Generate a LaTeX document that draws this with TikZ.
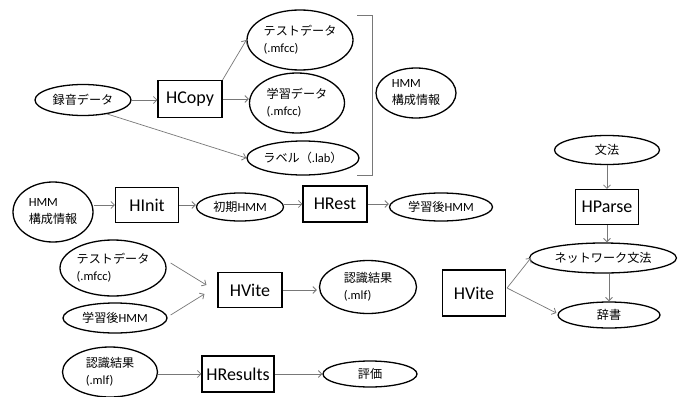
\documentclass[tikz,border=0pt]{standalone}
\usepackage{fontspec}
\setmainfont{Carlito}
\newfontfamily\cjk[Scale=0.97]{Noto Sans CJK JP}
\usetikzlibrary{shapes.geometric,arrows.meta}
\definecolor{arrgray}{RGB}{120,120,120}
\begin{document}
\begin{tikzpicture}[x=1pt,y=-1pt,
  ell/.style={draw=black,line width=1.3pt,ellipse,inner sep=0pt,align=left,
    font=\fontsize{12.5}{17}\selectfont},
  prog/.style={draw=black,line width=1.1pt,rectangle,inner sep=0pt,
    font=\fontsize{18}{20}\selectfont},
  arr/.style={draw=arrgray,line width=0.7pt,
    -{Straight Barb[length=3.5pt,width=7pt,line width=0.8pt]}},
  brk/.style={draw=arrgray,line width=0.8pt}]
\useasboundingbox (0,0) rectangle (692,396);
\fill[white] (0,0) rectangle (692,396);

% top group
\node[ell,minimum width=96pt,minimum height=31pt] (rec) at (83,100) {\cjk 録音データ};
\node[prog,minimum width=64pt,minimum height=37pt] (hcopy) at (190,99) {HCopy};
\node[ell,minimum width=106pt,minimum height=60pt] (test) at (300,40) {{\cjk テストデータ}\\(.mfcc)};
\node[ell,minimum width=95pt,minimum height=60pt] (learn) at (297,103) {{\cjk 学習データ}\\(.mfcc)};
\node[ell,minimum width=106pt,minimum height=34pt] (lab) at (303,158) {{\cjk ラベル（}.lab{\cjk ）}};
\node[ell,minimum width=80pt,minimum height=50pt] (hmm1) at (416,93) {HMM\\{\cjk 構成情報}};
\draw[brk] (357,15) -- (372,15) -- (372,175) -- (357,175);

\draw[arr] (rec.east) -- (rec.east -| hcopy.west);
\draw[arr] (hcopy.north east) -- (test.west);
\draw[arr] (hcopy.east) -- (hcopy.east -| learn.west);
\draw[arr] (rec.-30) -- (lab.west);

% second row
\node[ell,minimum width=80pt,minimum height=60pt] (hmm2) at (53,212) {HMM\\{\cjk 構成情報}};
\node[prog,minimum width=63pt,minimum height=35pt] (hinit) at (147,205) {HInit};
\node[ell,minimum width=87pt,minimum height=28pt] (init) at (240,207) {{\cjk 初期}HMM};
\node[prog,minimum width=64pt,minimum height=36pt] (hrest) at (335,204) {HRest};
\node[ell,minimum width=103pt,minimum height=28pt] (trained) at (441,207) {{\cjk 学習後}HMM};

\draw[arr] (hinit.west -| hmm2.east) -- (hinit.west);
\draw[arr] (hinit.east) -- (hinit.east -| init.west);
\draw[arr] (hrest.west -| init.east) -- (hrest.west);
\draw[arr] (hrest.east) -- (hrest.east -| trained.west);

% third row
\node[ell,minimum width=106pt,minimum height=56pt] (test2) at (113,268) {{\cjk テストデータ}\\(.mfcc)};
\node[ell,minimum width=104pt,minimum height=30pt] (trained2) at (115,318) {{\cjk 学習後}HMM};
\node[prog,minimum width=64pt,minimum height=35pt] (hvite1) at (250,290) {HVite};
\node[ell,minimum width=97pt,minimum height=53pt] (res1) at (368,287) {{\cjk 認識結果}\\(.mlf)};

\draw[arr] ([shift={(4,-5)}]test2.east) -- ([shift={(-11,-5)}]hvite1.west);
\draw[arr] ([shift={(3,-3)}]trained2.east) -- ([shift={(-13,4)}]hvite1.west);
\draw[arr] (hvite1.east) -- ([xshift=-2pt]hvite1.east -| res1.west);

% fourth row
\node[ell,minimum width=95pt,minimum height=50pt] (res2) at (110,372) {{\cjk 認識結果}\\(.mlf)};
\node[prog,minimum width=72pt,minimum height=36pt] (hres) at (238,374) {HResults};
\node[ell,minimum width=94pt,minimum height=26pt] (eval) at (370,374) {\cjk 評価};

\draw[arr] (hres.west -| res2.east) -- (hres.west);
\draw[arr] (hres.east) -- (hres.east -| eval.west);

% right group
\node[ell,minimum width=105pt,minimum height=29pt] (gram) at (607,150) {\cjk 文法};
\node[prog,minimum width=63pt,minimum height=35pt] (hparse) at (607,207) {HParse};
\node[ell,minimum width=147pt,minimum height=30pt] (net) at (603,258) {\cjk ネットワーク文法};
\node[prog,minimum width=63pt,minimum height=46pt] (hvite2) at (474,293) {HVite};
\node[ell,minimum width=102pt,minimum height=26pt] (dict) at (609,315) {\cjk 辞書};

\draw[arr] (gram.south) -- (hparse.north);
\draw[arr] (hparse.south) -- (hparse.south |- net.north);
\draw[arr] (dict.north |- net.south) -- (dict.north);
\coordinate (hvo) at ([shift={(1,-5)}]hvite2.east);
\draw[arr] (hvo) -- ([xshift=2pt]net.west);
\draw[arr] (hvo) -- ([shift={(-1,-2)}]dict.west);
\end{tikzpicture}
\end{document}
